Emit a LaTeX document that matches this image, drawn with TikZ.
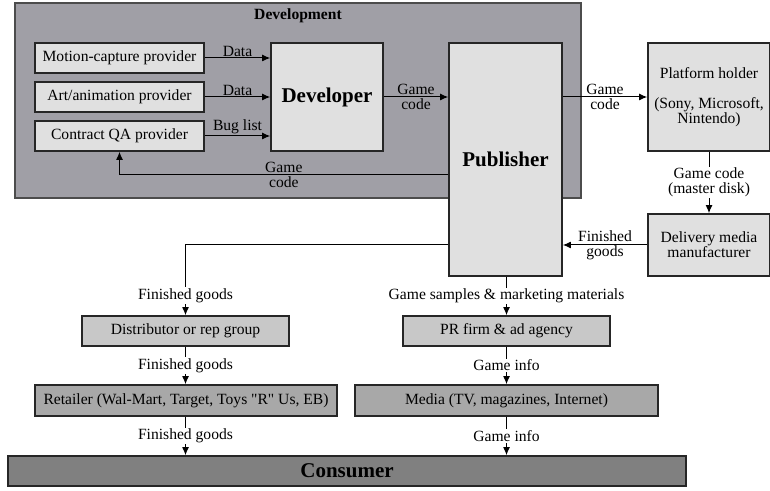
\documentclass[tikz,border=0pt]{standalone}
\usepackage{fontspec}
\setmainfont{Liberation Serif}
\usetikzlibrary{arrows.meta}
\definecolor{devgray}{HTML}{A09FA6}
\definecolor{boxlight}{HTML}{E0E0E0}
\definecolor{boxmid}{HTML}{C8C8C8}
\definecolor{boxdark}{HTML}{A8A8A8}
\definecolor{boxdeep}{HTML}{808080}

\begin{document}
\begin{tikzpicture}[x=0.5pt,y=-0.5pt,->,>={Latex[length=4pt,width=3.4pt]},line width=0.5pt,
  main box/.style={draw=black!85, line width=0.8pt, inner sep=0pt, align=center, font=\fontsize{7.8}{7.6}\selectfont},
  light box/.style={main box, fill=boxlight},
  mid box/.style={main box, fill=boxmid},
  dark box/.style={main box, fill=boxdark},
  big text/.style={font=\fontsize{10.5}{12}\selectfont\bfseries},
  lbl/.style={font=\fontsize{7.8}{7.6}\selectfont, align=center, inner sep=0.6pt}]
			\useasboundingbox (0,0) rectangle (770,491);
			% Development area
			\node [main box, fill=devgray, draw=black!70, minimum width=283pt, minimum height=97.5pt] (dev) at (298,100.5) {};
			\node [lbl, font=\fontsize{7.8}{7.6}\selectfont\bfseries] (devtitle) at (298,16) {Development};
			
			% Nodes
			\node [light box, minimum width=84.5pt, minimum height=15pt] (mocap) at (119.5,58) {Motion-capture provider};
			\node [light box, minimum width=84.5pt, minimum height=15pt] (art) at (119.5,97) {Art/animation provider};
			\node [light box, minimum width=84.5pt, minimum height=15pt] (qa) at (119.5,136) {Contract QA provider};
			\node [light box, big text, minimum width=56pt, minimum height=54pt] (developer) at (327,97) {Developer};
			\node [light box, big text, minimum width=56.5pt, minimum height=116.5pt] (publisher) at (505.5,159.5) {Publisher};
			\node [light box, minimum width=61pt, minimum height=54pt] (platform) at (709,97) {Platform holder\\[7.6pt](Sony, Microsoft,\\Nintendo)};
			\node [light box, minimum width=61pt, minimum height=31pt] (delivery) at (709,245) {Delivery media\\manufacturer};
			\node [mid box, minimum width=103.5pt, minimum height=15pt] (distributor) at (185.5,331) {Distributor or rep group};
			\node [mid box, minimum width=103.5pt, minimum height=15pt] (pr) at (506.5,331) {PR firm \& ad agency};
			\node [dark box, minimum width=151pt, minimum height=15.5pt] (retailer) at (186,400.5) {Retailer (Wal-Mart, Target, Toys \textquotedbl R\textquotedbl{} Us, EB)};
			\node [dark box, minimum width=151.5pt, minimum height=15.5pt] (media) at (506.5,400.5) {Media (TV, magazines, Internet)};
			\node [main box, fill=boxdeep, big text, minimum width=339pt, minimum height=15pt] (consumer) at (347,471) {Consumer};
			\coordinate (fbk) at (118,175);
			
			\path
			(mocap.east) edge node[lbl, above] {Data} (mocap.east -| developer.west)
			(art.east) edge node[lbl, above] {Data} (art.east -| developer.west)
			(qa.east) edge node[lbl, above] {Bug list} (qa.east -| developer.west)
			
			(developer) edge node[lbl] {Game\\code} (publisher.west |- developer)
			(publisher.east |- platform) edge node[lbl] {Game\\code} (platform)
			(platform) edge node[lbl, fill=white] {Game code\\(master disk)} (delivery)
			(delivery) edge node[lbl] {Finished\\goods} (publisher.east |- delivery)
			
			(publisher.south -| pr) edge node[lbl, fill=white] {Game samples \& marketing materials} (pr)
			(pr) edge node[lbl, fill=white] {Game info} (media.north -| pr)
			(media.south -| pr) edge node[lbl, fill=white] {Game info} (consumer.north -| pr)
			
			(distributor) edge node[lbl, fill=white] {Finished goods} (retailer.north -| distributor)
			(retailer.south -| distributor) edge node[lbl, fill=white] {Finished goods} (consumer.north -| distributor);
			
			\draw (publisher.west |- fbk) -| node[lbl, pos=0.25] {Game\\code} (qa.south);
			\draw (publisher.west |- delivery) -| node[lbl, fill=white, pos=0.86] {Finished goods} (distributor.north);
			
		\end{tikzpicture}
\end{document}
